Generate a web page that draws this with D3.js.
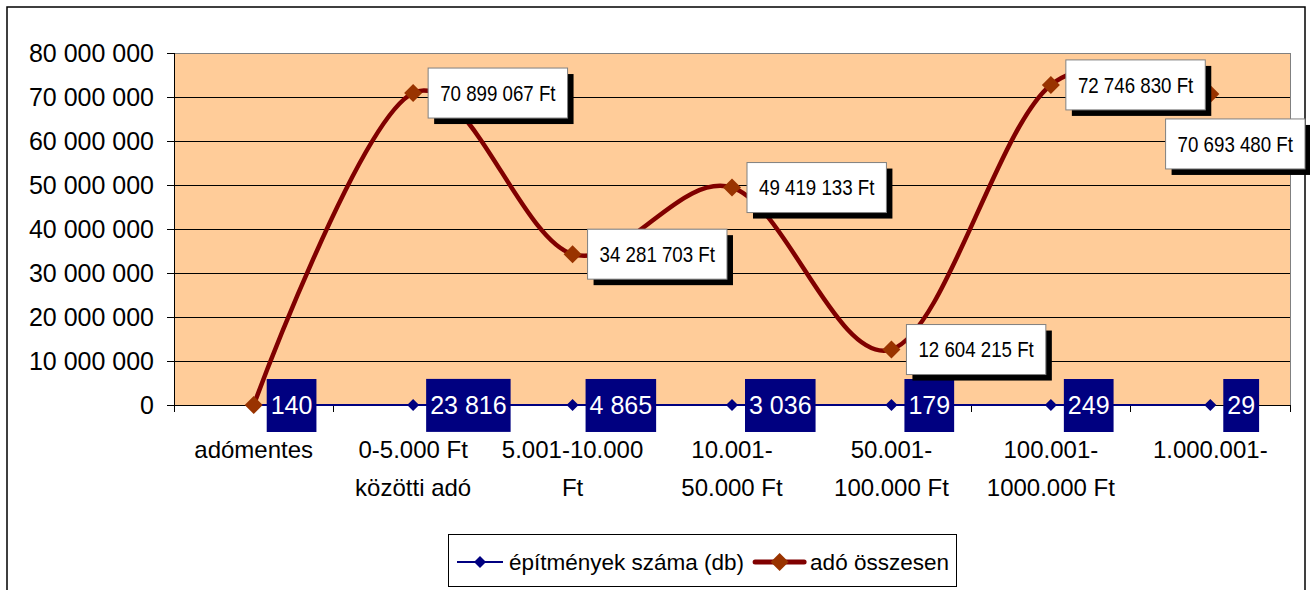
<!DOCTYPE html>
<html>
<head>
<meta charset="utf-8">
<script src="https://cdn.jsdelivr.net/npm/d3@7"></script>
<style>
  body { margin: 0; background: #fff; }
  text { font-family: "Liberation Sans", Arial, sans-serif; }
</style>
</head>
<body>
<svg id="chart" width="1310" height="590"></svg>
<script>
// chart data
const categories = ["adómentes", "0-5.000 Ft\nközötti adó", "5.001-10.000\nFt", "10.001-\n50.000 Ft",
  "50.001-\n100.000 Ft", "100.001-\n1000.000 Ft", "1.000.001-"];
const buildingCounts = [140, 23816, 4865, 3036, 179, 249, 29];
const taxTotals = [0, 70899067, 34281703, 49419133, 12604215, 72746830, 70693480];
const yTicks = [0, 10000000, 20000000, 30000000, 40000000, 50000000, 60000000, 70000000, 80000000];
const seriesNames = ["építmények száma (db)", "adó összesen"];

const svg = d3.select("#chart");
const plot = { left: 174, right: 1290, top: 53, bottom: 405 };
const frameRight = 1305;

const x = d3.scaleBand().domain(d3.range(categories.length)).range([plot.left, plot.right]);
const cx = i => x(i) + x.bandwidth() / 2;
const y = d3.scaleLinear().domain([0, 80000000]).range([plot.bottom, plot.top]);
const fmt = v => d3.format(",")(v).replace(/,/g, " ");

// outer chart frame
svg.append("rect")
  .attr("x", 7).attr("y", 7).attr("width", frameRight - 7).attr("height", 640)
  .attr("fill", "#fff").attr("stroke", "#000").attr("stroke-width", 1.5);

// plot area
svg.append("rect")
  .attr("x", plot.left).attr("y", plot.top)
  .attr("width", plot.right - plot.left).attr("height", plot.bottom - plot.top)
  .attr("fill", "#FFCC99").attr("stroke", "#808080").attr("shape-rendering", "crispEdges");

// horizontal grid lines
svg.append("g").selectAll("line")
  .data(yTicks.filter(v => v > 0 && v < 80000000))
  .join("line")
  .attr("x1", plot.left).attr("x2", plot.right)
  .attr("y1", d => y(d)).attr("y2", d => y(d))
  .attr("stroke", "#000").attr("shape-rendering", "crispEdges");

// y axis
const yAxis = svg.append("g")
  .attr("transform", `translate(${plot.left},0)`)
  .call(d3.axisLeft(y).tickValues(yTicks).tickSize(7).tickPadding(13).tickFormat(fmt));
yAxis.attr("shape-rendering", "crispEdges");
yAxis.selectAll("path, line").attr("stroke", "#000");
yAxis.selectAll("text")
  .attr("font-family", "Liberation Sans, Arial, sans-serif")
  .attr("font-size", 25).attr("fill", "#000");

// x axis line + tick marks between categories
svg.append("line")
  .attr("x1", plot.left).attr("x2", plot.right)
  .attr("y1", plot.bottom).attr("y2", plot.bottom)
  .attr("stroke", "#000").attr("shape-rendering", "crispEdges");
svg.append("g").selectAll("line")
  .data(d3.range(categories.length + 1))
  .join("line")
  .attr("x1", i => plot.left + i * x.step()).attr("x2", i => plot.left + i * x.step())
  .attr("y1", plot.bottom).attr("y2", plot.bottom + 7)
  .attr("stroke", "#000").attr("shape-rendering", "crispEdges");

// category labels
svg.append("g").selectAll("text")
  .data(categories)
  .join("text")
  .attr("font-size", 24).attr("fill", "#000").attr("text-anchor", "middle")
  .each(function(d, i) {
    const t = d3.select(this);
    d.split("\n").forEach((line, k) => {
      t.append("tspan").attr("x", cx(i)).attr("y", 458 + k * 38).text(line);
    });
  });

// series 1: number of buildings
svg.append("path")
  .datum(buildingCounts)
  .attr("d", d3.line().x((d, i) => cx(i)).y(d => y(d)))
  .attr("fill", "none").attr("stroke", "#000080").attr("stroke-width", 2);
svg.append("g").selectAll("path")
  .data(buildingCounts)
  .join("path")
  .attr("d", d3.symbol(d3.symbolSquare, 72))
  .attr("transform", (d, i) => `translate(${cx(i)},${y(d)}) rotate(45)`)
  .attr("fill", "#000080");

// series 2: total tax
svg.append("path")
  .datum(taxTotals)
  .attr("d", d3.line().x((d, i) => cx(i)).y(d => y(d)).curve(d3.curveCardinal.tension(0)))
  .attr("fill", "none").attr("stroke", "#800000").attr("stroke-width", 4.5)
  .attr("stroke-linejoin", "round");
svg.append("g").selectAll("path")
  .data(taxTotals)
  .join("path")
  .attr("d", d3.symbol(d3.symbolSquare, 162))
  .attr("transform", (d, i) => `translate(${cx(i)},${y(d)}) rotate(45)`)
  .attr("fill", "#993300");

// data labels for buildings
svg.append("g").selectAll("g")
  .data(buildingCounts)
  .join("g")
  .attr("transform", (d, i) => `translate(${cx(i) + 13},${y(d)})`)
  .each(function(d) {
    const g = d3.select(this);
    const r = g.append("rect").attr("fill", "#000080");
    const t = g.append("text")
      .attr("x", 4).attr("dy", "0.36em")
      .attr("font-size", 25).attr("fill", "#fff")
      .text(fmt(d));
    const w = t.node().getComputedTextLength();
    r.attr("x", 0).attr("y", -26).attr("width", w + 8).attr("height", 53);
  });

// data labels for tax totals
const labelScale = 0.85;
const taxLabels = svg.append("g");
taxTotals.forEach((d, i) => {
  if (d === 0) return;
  const g = taxLabels.append("g");
  const shadow = g.append("rect").attr("fill", "#000");
  const box = g.append("rect").attr("fill", "#fff").attr("stroke", "#808080");
  const t = g.append("text")
    .attr("font-size", 22).attr("fill", "#000").attr("text-anchor", "middle")
    .attr("dy", "0.36em")
    .text(fmt(d) + " Ft");
  const w = t.node().getComputedTextLength() * labelScale;
  const bw = w + 24, bh = 50;
  let bx = cx(i) + 15, by = y(d) - bh / 2;
  if (bx + bw > plot.right) { bx = frameRight - bw; by = y(d) + bh / 2; }
  shadow.attr("x", bx + 6).attr("y", by + 6).attr("width", bw).attr("height", bh);
  box.attr("x", bx).attr("y", by).attr("width", bw).attr("height", bh);
  t.attr("transform", `translate(${bx + bw / 2},${by + bh / 2}) scale(${labelScale},1)`);
});

// legend
const legend = svg.append("g");
const legendBox = legend.append("rect")
  .attr("fill", "#fff").attr("stroke", "#000").attr("shape-rendering", "crispEdges");
const ly = 562;
let lx = 457;
seriesNames.forEach((name, i) => {
  const lineLen = i === 0 ? 46 : 49;
  legend.append("line")
    .attr("x1", lx).attr("x2", lx + lineLen).attr("y1", ly).attr("y2", ly)
    .attr("stroke", i === 0 ? "#000080" : "#800000")
    .attr("stroke-width", i === 0 ? 2 : 5)
    .attr("stroke-linecap", i === 0 ? "butt" : "round");
  legend.append("path")
    .attr("d", d3.symbol(d3.symbolSquare, i === 0 ? 72 : 162))
    .attr("transform", `translate(${lx + lineLen / 2},${ly}) rotate(45)`)
    .attr("fill", i === 0 ? "#000080" : "#993300");
  const t = legend.append("text")
    .attr("x", lx + lineLen + 6).attr("y", ly).attr("dy", "0.36em")
    .attr("font-size", 22.5).attr("fill", "#000")
    .text(name);
  lx = lx + lineLen + 6 + t.node().getComputedTextLength() + 11;
});
legendBox.attr("x", 448).attr("y", 534).attr("width", lx - 448 - 3).attr("height", 52);
</script>
</body>
</html>
